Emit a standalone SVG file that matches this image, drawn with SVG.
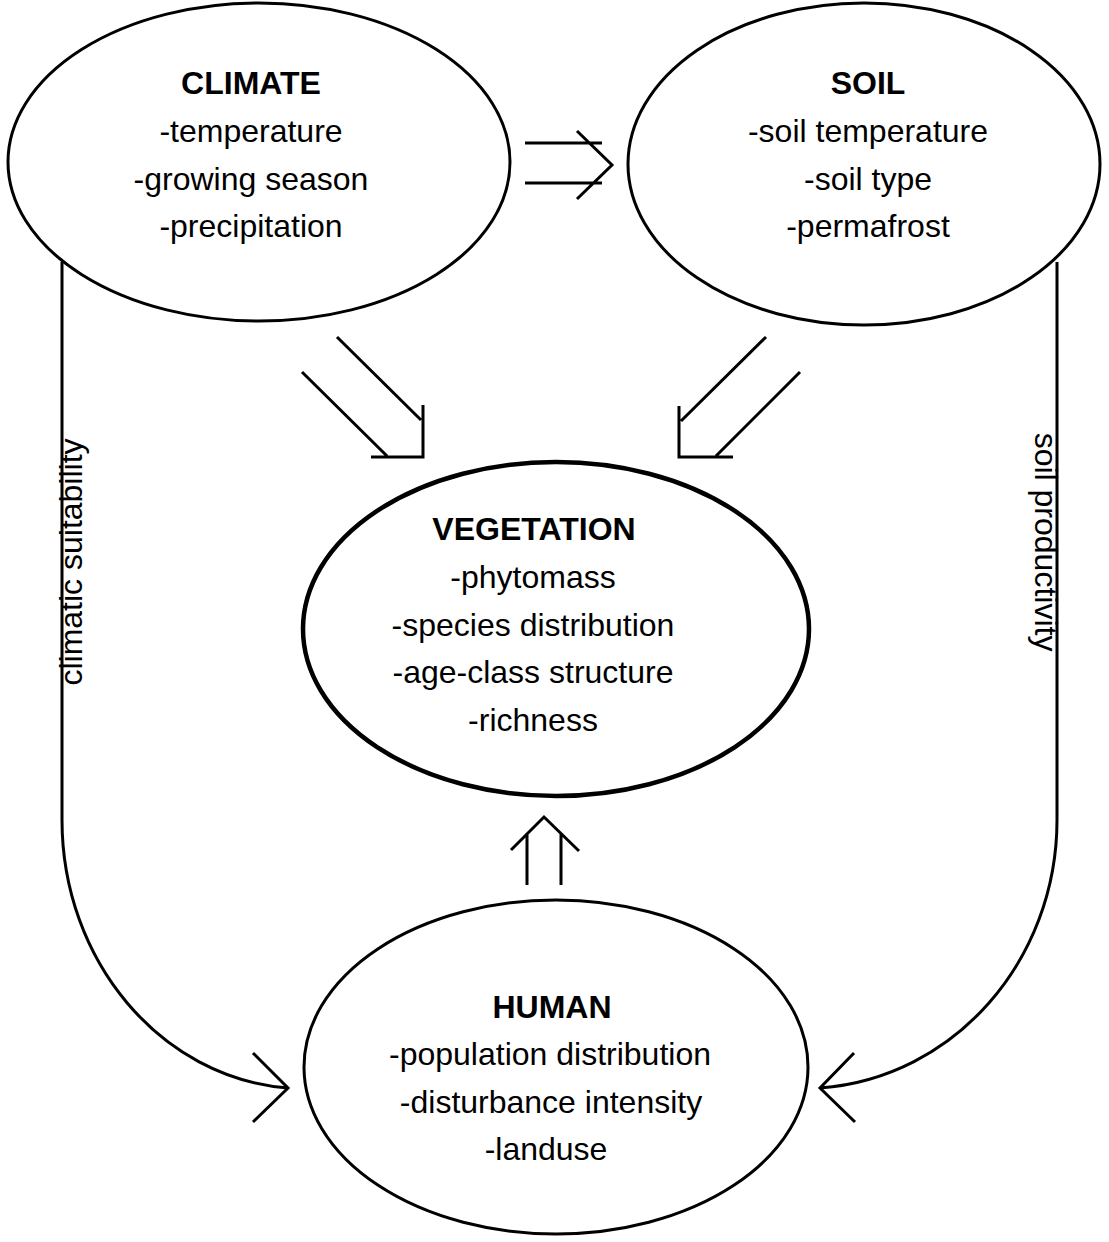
<svg xmlns="http://www.w3.org/2000/svg" width="1109" height="1242" viewBox="0 0 1109 1242">
<style>
.node{fill:none;stroke:#000;stroke-width:3}
.thick{stroke-width:4.5}
.t{font-family:"Liberation Sans",Arial,sans-serif;font-size:32px;fill:#000;text-anchor:middle}
.b{font-weight:bold}
.c{fill:none;stroke:#000;stroke-width:3;stroke-linecap:butt;stroke-linejoin:miter}
</style>
<rect width="1109" height="1242" fill="#fff"/>
<g id="climate">
<ellipse class="node" cx="259" cy="162" rx="251" ry="159"/>
<text class="t b" x="251" y="94">CLIMATE</text>
<text class="t" x="251" y="142">-temperature</text>
<text class="t" x="251" y="190">-growing season</text>
<text class="t" x="251" y="237">-precipitation</text>
</g>
<g id="soil">
<ellipse class="node" cx="864" cy="164" rx="236" ry="161"/>
<text class="t b" x="868" y="94">SOIL</text>
<text class="t" x="868" y="142">-soil temperature</text>
<text class="t" x="868" y="190">-soil type</text>
<text class="t" x="868" y="237">-permafrost</text>
</g>
<g id="vegetation">
<ellipse class="node thick" cx="556" cy="629" rx="253" ry="167"/>
<text class="t b" x="534" y="540">VEGETATION</text>
<text class="t" x="533" y="588">-phytomass</text>
<text class="t" x="533" y="636">-species distribution</text>
<text class="t" x="533" y="683">-age-class structure</text>
<text class="t" x="533" y="731">-richness</text>
</g>
<g id="human">
<ellipse class="node" cx="556" cy="1067" rx="252" ry="167"/>
<text class="t b" x="552" y="1018">HUMAN</text>
<text class="t" x="550" y="1065">-population distribution</text>
<text class="t" x="551" y="1113">-disturbance intensity</text>
<text class="t" x="546" y="1160">-landuse</text>
</g>
<g id="connectors">
<!-- climate to soil -->
<path class="c" d="M525,143 H602 M525,183 H602 M577,131 L612,165 L577,199"/>
<!-- climate to vegetation -->
<path class="c" d="M337,337 L421,420 M302,372 L387,456 M423,405 V457 H371"/>
<!-- soil to vegetation -->
<path class="c" d="M766,337 L681,421 M800,372 L716,456 M679,406 V457 H733"/>
<!-- human to vegetation -->
<path class="c" d="M527,885 V833 M561,885 V833 M511,850 L544,817 L579,851"/>
<!-- climatic suitability -->
<path class="c" d="M62,262 L62,820 C62,960 160,1078 288,1088 M253,1053 L288,1088 L253,1122"/>
<!-- soil productivity -->
<path class="c" d="M1057,262 L1057,820 C1057,960 955,1078 820,1088 M854,1053 L820,1088 L855,1122"/>
<text class="t" transform="translate(82,562) rotate(-90)">climatic suitability</text>
<text class="t" transform="translate(1035,542) rotate(90)">soil productivity</text>
</g>
</svg>
